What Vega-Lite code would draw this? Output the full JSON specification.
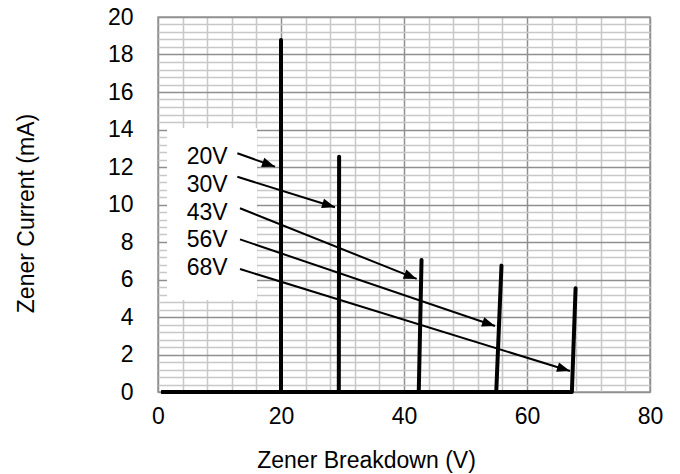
{
  "$schema": "https://vega.github.io/schema/vega-lite/v6.json",
  "width": 492,
  "height": 375,
  "autosize": {"type": "none"},
  "padding": {"left": 158, "top": 17, "right": 30, "bottom": 82},
  "background": "white",
  "config": {
    "view": {"stroke": "#999999", "strokeWidth": 1.5},
    "font": "Liberation Sans"
  },
  "datasets": {
    "curves": [
      {"series": "20V", "x": 0.8, "y": 0},
      {"series": "20V", "x": 20.0, "y": 0},
      {"series": "20V", "x": 20.0, "y": 18.77},
      {"series": "30V", "x": 0.8, "y": 0},
      {"series": "30V", "x": 29.4, "y": 0},
      {"series": "30V", "x": 29.45, "y": 12.55},
      {"series": "43V", "x": 0.8, "y": 0},
      {"series": "43V", "x": 42.4, "y": 0},
      {"series": "43V", "x": 42.85, "y": 7.04},
      {"series": "56V", "x": 0.8, "y": 0},
      {"series": "56V", "x": 55.0, "y": 0},
      {"series": "56V", "x": 55.85, "y": 6.74},
      {"series": "68V", "x": 0.8, "y": 0},
      {"series": "68V", "x": 67.3, "y": 0},
      {"series": "68V", "x": 67.9, "y": 5.53}
    ],
    "arrows": [
      {"label": "20V", "x": 19.02, "y": 12.02, "x2": 12.9, "y2": 12.73},
      {"label": "30V", "x": 28.78, "y": 9.85, "x2": 12.9, "y2": 11.48},
      {"label": "43V", "x": 42.06, "y": 6.03, "x2": 13.33, "y2": 9.8},
      {"label": "56V", "x": 54.8, "y": 3.52, "x2": 13.33, "y2": 8.14},
      {"label": "68V", "x": 66.99, "y": 1.12, "x2": 13.33, "y2": 6.56}
    ],
    "labels": [
      {"label": "20V", "x": 4.67, "y": 12.14},
      {"label": "30V", "x": 4.67, "y": 10.67},
      {"label": "43V", "x": 4.67, "y": 9.19},
      {"label": "56V", "x": 4.67, "y": 7.71},
      {"label": "68V", "x": 4.67, "y": 6.24}
    ],
    "box": [
      {"x": 1.46, "x2": 16.1, "y": 4.91, "y2": 14.08}
    ]
  },
  "encoding": {
    "x": {
      "field": "x",
      "type": "quantitative",
      "scale": {"domain": [0, 80], "nice": false, "zero": false},
      "axis": {
        "title": "Zener Breakdown (V)",
        "values": [0, 4, 8, 12, 16, 20, 24, 28, 32, 36, 40, 44, 48, 52, 56, 60, 64, 68, 72, 76, 80],
        "labelExpr": "datum.value % 20 === 0 ? format(datum.value, 'd') : ''",
        "grid": true,
        "gridColor": {"condition": {"test": "datum.value % 20 === 0", "value": "#8f8f8f"}, "value": "#c8c8c8"},
        "gridWidth": 1.5,
        "domain": false,
        "ticks": false,
        "tickSize": 0,
        "labelPadding": 13,
        "labelFont": "Liberation Sans",
        "labelFontSize": 23,
        "labelColor": "#000000",
        "labelFlush": false,
        "labelOverlap": false,
        "titleFont": "Liberation Sans",
        "titleFontSize": 23,
        "titleFontWeight": "normal",
        "titleColor": "#000000",
        "titleX": 208,
        "titleY": 75,
        "titleAlign": "center",
        "titleBaseline": "alphabetic"
      }
    },
    "y": {
      "field": "y",
      "type": "quantitative",
      "scale": {"domain": [0, 20], "nice": false, "zero": false},
      "axis": {
        "title": "Zener Current (mA)",
        "values": [0, 0.4, 0.8, 1.2, 1.6, 2, 2.4, 2.8, 3.2, 3.6, 4, 4.4, 4.8, 5.2, 5.6, 6, 6.4, 6.8, 7.2, 7.6, 8, 8.4, 8.8, 9.2, 9.6, 10, 10.4, 10.8, 11.2, 11.6, 12, 12.4, 12.8, 13.2, 13.6, 14, 14.4, 14.8, 15.2, 15.6, 16, 16.4, 16.8, 17.2, 17.6, 18, 18.4, 18.8, 19.2, 19.6, 20],
        "labelExpr": "abs(datum.value / 2 - round(datum.value / 2)) < 0.01 ? format(datum.value, 'd') : ''",
        "grid": true,
        "gridColor": {"condition": {"test": "abs(datum.value / 2 - round(datum.value / 2)) < 0.01", "value": "#8f8f8f"}, "value": "#c8c8c8"},
        "gridWidth": 1.5,
        "domain": false,
        "ticks": false,
        "tickSize": 0,
        "labelPadding": 25,
        "labelFont": "Liberation Sans",
        "labelFontSize": 23,
        "labelColor": "#000000",
        "labelFlush": false,
        "labelOverlap": false,
        "titleFont": "Liberation Sans",
        "titleFontSize": 23,
        "titleFontWeight": "normal",
        "titleColor": "#000000",
        "titleX": -124.7,
        "titleY": 196,
        "titleAngle": 270,
        "titleAlign": "center",
        "titleBaseline": "alphabetic"
      }
    }
  },
  "layer": [
    {
      "data": {"name": "box"},
      "mark": {"type": "rect", "color": "white", "opacity": 1},
      "encoding": {
        "x2": {"field": "x2"},
        "y2": {"field": "y2"}
      }
    },
    {
      "data": {"name": "curves"},
      "mark": {"type": "line", "color": "black", "strokeWidth": 4, "strokeJoin": "round", "strokeCap": "round"},
      "encoding": {
        "detail": {"field": "series", "type": "nominal"},
        "order": [{"field": "x", "type": "quantitative"}, {"field": "y", "type": "quantitative"}]
      }
    },
    {
      "data": {"name": "arrows"},
      "mark": {"type": "rule", "color": "black", "strokeWidth": 2},
      "encoding": {
        "x2": {"field": "x2"},
        "y2": {"field": "y2"}
      }
    },
    {
      "data": {"name": "arrows"},
      "transform": [
        {"calculate": "atan2((datum.y2 - datum.y) * 18.75, (datum.x - datum.x2) * 6.15) * 180 / PI", "as": "ang"}
      ],
      "mark": {"type": "point", "shape": "M0,0L-2,-0.75L-2,0.75Z", "filled": true, "color": "black", "opacity": 1, "size": 169},
      "encoding": {
        "angle": {"field": "ang", "type": "quantitative", "scale": null}
      }
    },
    {
      "data": {"name": "labels"},
      "mark": {"type": "text", "align": "left", "baseline": "alphabetic", "font": "Liberation Sans", "fontSize": 23, "color": "black"},
      "encoding": {
        "text": {"field": "label", "type": "nominal"}
      }
    }
  ]
}
